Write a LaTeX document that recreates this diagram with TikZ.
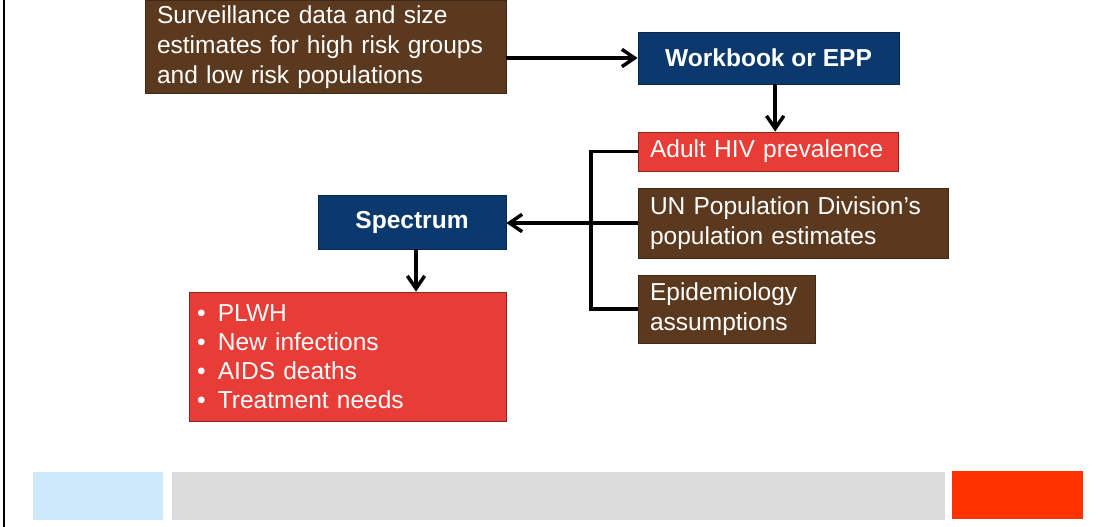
\documentclass[tikz,border=0pt]{standalone}
\usepackage{fontspec}
\setmainfont{Liberation Sans}
\usetikzlibrary{arrows.meta}
\definecolor{hivbrown}{RGB}{91,57,30}
\definecolor{hivnavy}{RGB}{11,57,110}
\definecolor{hivred}{RGB}{232,60,55}
\definecolor{barblue}{RGB}{206,233,250}
\definecolor{bargray}{RGB}{219,219,219}
\definecolor{barorange}{RGB}{255,51,0}
\begin{document}
\begin{tikzpicture}[x=0.75pt,y=0.75pt,yscale=-1,xscale=1,
    box/.style={rectangle,inner ysep=0pt,text=white,line width=0.6pt,
        font=\fontsize{18.4}{22.5}\selectfont},
    brownbox/.style={box,fill=hivbrown,draw=hivbrown!70!black,align=left,inner xsep=9pt},
    navybox/.style={box,fill=hivnavy,draw=hivnavy!70!black,align=center,
        font=\fontsize{18.4}{22.5}\selectfont\bfseries},
    redbox/.style={box,fill=hivred,draw=hivred!60!black,align=left,inner xsep=9pt},
    arr/.style={line width=2.6pt,-{Straight Barb[length=9.5pt,width=13pt,line width=2.6pt]}},
    link/.style={line width=2.6pt}]
        \useasboundingbox (0,0) rectangle (1099,527);
        %Straight Lines: left border
        \draw [line width=1.6pt] (4,0) -- (4,527) ;

        % Text Node
        \node [brownbox,minimum width=270.75pt,minimum height=69.75pt,text width=252.75pt] (surv) at (325.5,47)
            {Surveillance data and size\\estimates for high risk groups\\and low risk populations};
        % Text Node
        \node [navybox,minimum width=195.75pt,minimum height=39pt] (wb) at (768.5,58) {Workbook or EPP};
        % Text Node
        \node [redbox,minimum width=195pt,minimum height=29.25pt,text width=177pt] (adult) at (768,151.5) {Adult HIV prevalence};
        % Text Node
        \node [brownbox,minimum width=232.5pt,minimum height=52.5pt,text width=214.5pt] (un) at (793,223)
            {UN Population Division’s\\population estimates};
        % Text Node
        \node [brownbox,minimum width=132.75pt,minimum height=51pt,text width=114.75pt] (epi) at (726.5,309)
            {Epidemiology\\assumptions};
        % Text Node
        \node [navybox,minimum width=141pt,minimum height=40.5pt] (spec) at (412,222) {Spectrum};
        % Text Node
        \node [redbox,inner xsep=6pt,minimum width=237.75pt,minimum height=96.75pt,text width=225.75pt,
            font=\fontsize{18.4}{21.75}\selectfont] (out) at (347.5,356.5)
            {•\hspace{0.5em}PLWH\\•\hspace{0.5em}New infections\\•\hspace{0.5em}AIDS deaths\\•\hspace{0.5em}Treatment needs};

        %Connectors
        \coordinate (jt) at (591,223);
        \draw [arr] (wb.west -| surv.east) -- (wb.west) ;
        \draw [arr] ([xshift=5pt]wb.south) -- ([xshift=5pt]wb.south |- adult.north) ;
        \draw [link] (adult.west) -| (jt) |- (epi.west) ;
        \draw [arr] (un.west) -- (un.west -| spec.east) ;
        \draw [arr] ([xshift=3pt]spec.south) -- ([xshift=3pt]spec.south |- out.north) ;

        %Shape: Rectangle bottom bars
        \fill [barblue] (33,472) rectangle (163,520) ;
        \fill [bargray] (172,472) rectangle (945,520) ;
        \fill [barorange] (952,471) rectangle (1083,519) ;
    \end{tikzpicture}
\end{document}
